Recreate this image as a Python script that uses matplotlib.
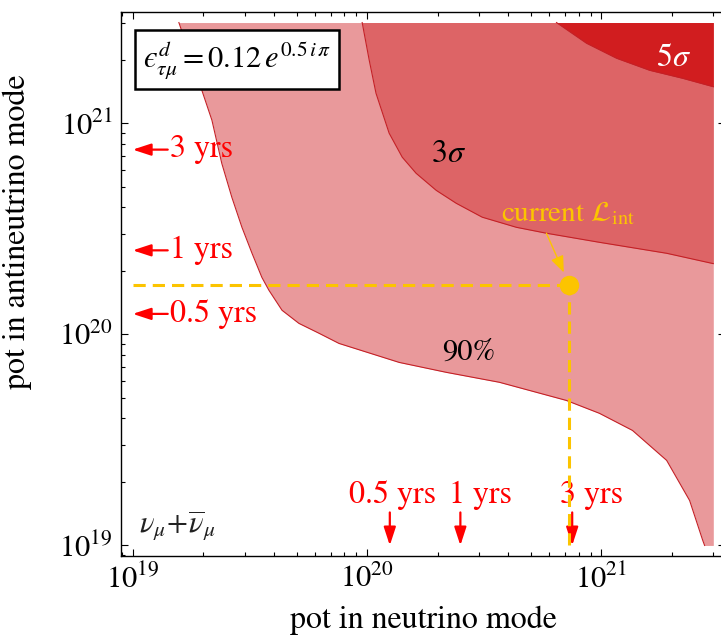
import numpy as np
import matplotlib.pyplot as plt
from matplotlib.ticker import LogLocator, NullFormatter

plt.rcParams['font.family'] = 'STIXGeneral'
plt.rcParams['mathtext.fontset'] = 'stix'

# range of pot scanned in both modes
pot_min, pot_max = 1e19, 3e21

# sensitivity contours, log10(pot)
cl90_x = np.array([19.197, 19.295, 19.338, 19.380, 19.423, 19.466, 19.509, 19.551,
                   19.581, 19.637, 19.709, 19.795, 19.880, 20.137, 20.338, 20.564,
                   20.850, 20.991, 21.132, 21.278, 21.376, 21.432, 21.440])
cl90_y = np.array([21.477, 21.156, 21.014, 20.810, 20.649, 20.507, 20.384, 20.270,
                   20.209, 20.114, 20.052, 20.005, 19.957, 19.867, 19.820, 19.773,
                   19.687, 19.626, 19.545, 19.403, 19.213, 19.024, 19.000])
sig3_x = np.array([19.979, 20.009, 20.038, 20.094, 20.150, 20.209, 20.295, 20.380,
                   20.491, 20.637, 20.765, 20.991, 21.278, 21.477])
sig3_y = np.array([21.477, 21.299, 21.142, 20.953, 20.839, 20.763, 20.682, 20.621,
                   20.555, 20.507, 20.479, 20.436, 20.384, 20.335])
sig5_x = np.array([20.808, 20.936, 21.064, 21.205, 21.346, 21.477])
sig5_y = np.array([21.477, 21.379, 21.308, 21.251, 21.213, 21.173])

current_nu, current_anu = 7.3e20, 1.71e20
yrs_labels = ['0.5 yrs', '1 yrs', '3 yrs']
yrs_pot = [1.25e20, 2.5e20, 7.5e20]

fig = plt.figure(figsize=(7.21, 6.44), dpi=100)
ax = fig.add_axes([121 / 721, 88 / 644, 604 / 721, 544 / 644])
ax.set_xscale('log')
ax.set_yscale('log')
ax.set_xlim(10**18.95, 10**21.527)
ax.set_ylim(10**18.95, 10**21.527)

# filled regions
regions = [(cl90_x, cl90_y, '#e9999b'), (sig3_x, sig3_y, '#dd6466'), (sig5_x, sig5_y, '#d11d1f')]
for i, (lx, ly, col) in enumerate(regions):
    xs, ys = 10**lx, 10**ly
    fx, fy = xs, ys
    if i == 0:
        fx = np.append(xs, pot_max)
        fy = np.append(ys, pot_min)
    ax.fill_between(fx, fy, pot_max, color=col, lw=0, zorder=1)
    ax.plot(xs, ys, color='#c42026', lw=0.8, zorder=2)

ax.text(10**21.308, 10**21.308, r'$5\sigma$', color='white', fontsize=23, ha='center', va='center', zorder=3)
ax.text(10**20.346, 10**20.853, r'$3\sigma$', color='black', fontsize=23, ha='center', va='center', zorder=3)
ax.text(10**20.436, 10**19.910, '90%', color='black', fontsize=22, ha='center', va='center', zorder=3)

# current exposure
gold = '#fcc400'
ax.plot([pot_min, current_nu], [current_anu, current_anu], color=gold, lw=2.2, dashes=(4, 2.3), zorder=4)
ax.plot([current_nu, current_nu], [pot_min, current_anu], color=gold, lw=2.2, dashes=(4, 2.3), zorder=4)
ax.plot(current_nu, current_anu, 'o', color=gold, ms=13, zorder=5)
ax.text(10**20.855, 10**20.573, r'current $\mathcal{L}_{\rm int}$', color=gold, fontsize=21,
        ha='center', va='center', zorder=5)
ax.annotate('', xy=(current_nu, current_anu), xytext=(10**20.765, 10**20.479),
            arrowprops=dict(arrowstyle='-|>,head_length=0.5,head_width=0.2', color=gold, lw=1.0,
                            shrinkA=0, shrinkB=10, mutation_scale=20), zorder=5)

# years of running
arrow_kw = dict(arrowstyle='-|>,head_length=0.55,head_width=0.18', color='red', lw=1.6,
                shrinkA=0, shrinkB=0, mutation_scale=20)
text_dx = [3, 20, 19]
for lab, v, dx in zip(yrs_labels, yrs_pot, text_dx):
    ax.annotate('', xy=(pot_min, v), xytext=(35, 0), textcoords='offset pixels', arrowprops=arrow_kw)
    ax.annotate(lab, xy=(pot_min, v), xytext=(37, 0), textcoords='offset pixels',
                ha='left', va='center', color='red', fontsize=23)
    ax.annotate('', xy=(v, pot_min), xytext=(0, 33), textcoords='offset pixels', arrowprops=arrow_kw)
    ax.annotate(lab, xy=(v, pot_min), xytext=(dx, 35), textcoords='offset pixels',
                ha='center', va='bottom', color='red', fontsize=23)

eps_label = '$\u03f5' + r'^{d}_{\tau\mu}=0.12\,e^{0.5\,i\,\pi}$'
ax.text(0.192, 0.912, eps_label, transform=ax.transAxes,
        ha='center', va='center', fontsize=22, zorder=6,
        bbox=dict(boxstyle='square,pad=0.25', fc='white', ec='black', lw=1.8))
ax.text(0.03, 0.055, r'$\nu_\mu\!+\!\overline{\nu}_\mu$', transform=ax.transAxes,
        ha='left', va='center', fontsize=22, color='#222222')

ax.set_xlabel('pot in neutrino mode', fontsize=23, labelpad=8)
ax.set_ylabel('pot in antineutrino mode', fontsize=23)
ax.yaxis.set_label_coords(-0.147, 0.596)

for axis in (ax.xaxis, ax.yaxis):
    axis.set_major_locator(LogLocator(base=10))
    axis.set_minor_locator(LogLocator(base=10, subs=np.arange(2, 10)))
    axis.set_minor_formatter(NullFormatter())
ax.tick_params(which='both', direction='in', top=True, right=True, width=0.8, labelsize=22)
ax.tick_params(which='major', length=5, pad=6)
ax.tick_params(which='minor', length=3)
for s in ax.spines.values():
    s.set_linewidth(1.0)

fig.savefig('out.png', dpi=100)
